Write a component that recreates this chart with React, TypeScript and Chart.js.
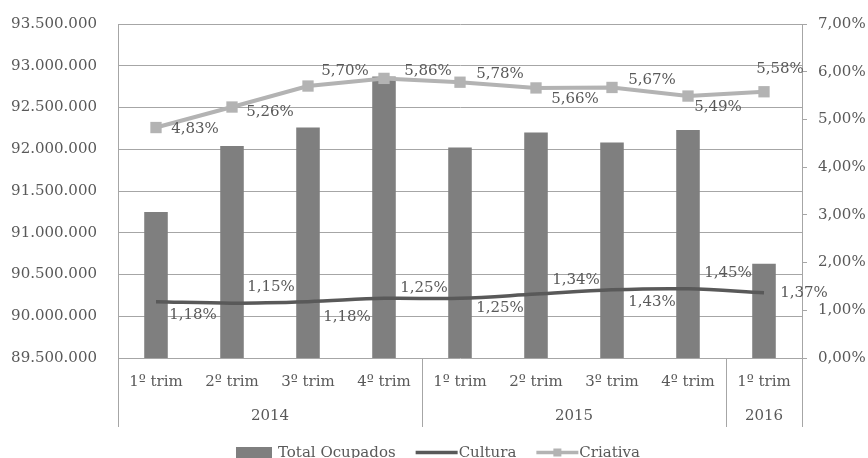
import React, { useEffect, useRef } from "react";
import { Chart, registerables } from "chart.js";

Chart.register(...registerables);

const quarters = ["1º trim", "2º trim", "3º trim", "4º trim", "1º trim", "2º trim", "3º trim", "4º trim", "1º trim"];
const years = ["2014", "2015", "2016"];
const yearSpans = [4, 4, 1];
const totalOcupados = [91250000, 92040000, 92260000, 92870000, 92020000, 92200000, 92080000, 92230000, 90630000];
const cultura = [1.18, 1.15, 1.18, 1.25, 1.25, 1.34, 1.43, 1.45, 1.37];
const criativa = [4.83, 5.26, 5.7, 5.86, 5.78, 5.66, 5.67, 5.49, 5.58];
const leftMin = 89500000;
const leftMax = 93500000;
const leftStep = 500000;
const rightMin = 0;
const rightMax = 7;
const rightStep = 1;

// label offsets (center of text relative to point), styling only
const culturaLabelOffsets = [[37, 13], [39, -16], [39, 15], [40, -10], [40, 10], [40, -14], [40, 12], [40, -16], [40, 0]];
const criativaLabelOffsets = [[39, 2], [38, 5], [37, -15], [44, -7], [40, -8], [39, 11], [40, -7], [30, 11], [16, -23]];

const FONT = "'DejaVu Serif', serif";
const TEXT = "#595959";
const GRID = "#a6a6a6";

const fmtPct = (v: number) => v.toFixed(2).replace(".", ",") + "%";
const fmtNum = (v: number) => String(Math.round(v)).replace(/\B(?=(\d{3})+(?!\d))/g, ".");

const extrasPlugin = {
  id: "extras",
  afterDatasetsDraw(chart: any) {
    const ctx = chart.ctx;
    const area = chart.chartArea;
    const x = chart.scales.x;
    ctx.save();
    // data labels
    ctx.font = `15px ${FONT}`;
    ctx.fillStyle = TEXT;
    ctx.textAlign = "center";
    ctx.textBaseline = "middle";
    const drawLabels = (dsIndex: number, values: number[], offs: number[][]) => {
      const meta = chart.getDatasetMeta(dsIndex);
      meta.data.forEach((pt: any, i: number) => {
        ctx.fillText(fmtPct(values[i]), pt.x + offs[i][0], pt.y + offs[i][1]);
      });
    };
    drawLabels(0, cultura, culturaLabelOffsets);
    drawLabels(1, criativa, criativaLabelOffsets);

    // category separators & year labels
    const catW = (area.right - area.left) / quarters.length;
    const sepBottom = area.bottom + 69;
    ctx.strokeStyle = GRID;
    ctx.lineWidth = 1;
    let idx = 0;
    const bounds = [0];
    yearSpans.forEach((s) => {
      idx += s;
      bounds.push(idx);
    });
    bounds.forEach((b) => {
      const px = Math.round(area.left + b * catW) + 0.5;
      ctx.beginPath();
      ctx.moveTo(px, area.bottom);
      ctx.lineTo(px, sepBottom);
      ctx.stroke();
    });
    years.forEach((yr, i) => {
      const c0 = x.getPixelForValue(bounds[i]);
      const c1 = x.getPixelForValue(bounds[i + 1] - 1);
      ctx.fillText(yr, (c0 + c1) / 2, area.bottom + 58);
    });

    // legend
    const ly = 452;
    ctx.font = `15px ${FONT}`;
    ctx.textAlign = "left";
    ctx.textBaseline = "alphabetic";
    const items = [
      { text: "Total Ocupados", kind: "box", sw: 36, gap: 6 },
      { text: "Cultura", kind: "line", sw: 42, gap: 1 },
      { text: "Criativa", kind: "marker", sw: 42, gap: 1 },
    ];
    const spacing = 20;
    let total = 0;
    items.forEach((it, i) => {
      total += it.sw + it.gap + ctx.measureText(it.text).width + (i < items.length - 1 ? spacing : 0);
    });
    let cx = chart.width / 2 - total / 2 + 4;
    items.forEach((it) => {
      if (it.kind === "box") {
        ctx.fillStyle = "#7f7f7f";
        ctx.fillRect(cx, ly - 5, it.sw, 14);
      } else if (it.kind === "line") {
        ctx.strokeStyle = "#595959";
        ctx.lineWidth = 3.5;
        ctx.beginPath();
        ctx.moveTo(cx, ly + 0.5);
        ctx.lineTo(cx + it.sw, ly + 0.5);
        ctx.stroke();
      } else {
        ctx.strokeStyle = "#b3b3b3";
        ctx.lineWidth = 3.5;
        ctx.beginPath();
        ctx.moveTo(cx, ly + 0.5);
        ctx.lineTo(cx + it.sw, ly + 0.5);
        ctx.stroke();
        ctx.fillStyle = "#b3b3b3";
        ctx.fillRect(cx + it.sw / 2 - 4, ly - 3.5, 8, 8);
      }
      cx += it.sw + it.gap;
      ctx.fillStyle = TEXT;
      ctx.fillText(it.text, cx, ly + 5);
      cx += ctx.measureText(it.text).width + spacing;
    });
    ctx.restore();
  },
};

export default function App() {
  const ref = useRef<HTMLCanvasElement>(null);
  useEffect(() => {
    document.body.style.margin = "0";
    const canvas = ref.current;
    if (!canvas) return;
    const chart = new Chart(canvas, {
      type: "bar",
      data: {
        labels: quarters,
        datasets: [
          {
            type: "line",
            label: "Cultura",
            data: cultura,
            yAxisID: "y1",
            borderColor: "#595959",
            borderWidth: 3.5,
            pointRadius: 0,
            tension: 0.35,
            order: 1,
          } as any,
          {
            type: "line",
            label: "Criativa",
            data: criativa,
            yAxisID: "y1",
            borderColor: "#b3b3b3",
            backgroundColor: "#b3b3b3",
            borderWidth: 4,
            pointStyle: "rect",
            pointRadius: 8,
            pointBorderWidth: 0,
            tension: 0,
            order: 2,
          } as any,
          {
            type: "bar",
            label: "Total Ocupados",
            data: totalOcupados,
            yAxisID: "y",
            backgroundColor: "#7f7f7f",
            categoryPercentage: 1,
            barPercentage: 0.31,
            order: 3,
          },
        ],
      },
      options: {
        animation: false,
        responsive: true,
        maintainAspectRatio: false,
        layout: { padding: { top: 24, bottom: 0, left: 0, right: 0 } },
        plugins: { legend: { display: false }, tooltip: { enabled: false } },
        scales: {
          x: {
            grid: { display: false },
            border: { display: false },
            ticks: { color: TEXT, font: { family: FONT, size: 15 }, padding: 7, maxRotation: 0, autoSkip: false },
            afterFit: (s: any) => {
              s.height = 100;
            },
          },
          y: {
            position: "left",
            min: leftMin,
            max: leftMax,
            grid: { color: GRID, drawTicks: true, tickLength: 18, tickColor: "rgba(0,0,0,0)" },
            border: { display: true, color: GRID },
            ticks: {
              stepSize: leftStep,
              color: TEXT,
              font: { family: FONT, size: 15 },
              padding: 3,
              callback: (v: any) => fmtNum(Number(v)),
            },
            afterFit: (s: any) => {
              s.width = 118;
            },
          },
          y1: {
            position: "right",
            min: rightMin,
            max: rightMax,
            grid: { drawOnChartArea: false, drawTicks: true, tickLength: 5, color: GRID },
            border: { display: true, color: GRID },
            ticks: {
              stepSize: rightStep,
              color: TEXT,
              font: { family: FONT, size: 15 },
              padding: 11,
              callback: (v: any) => fmtPct(Number(v)),
            },
            afterFit: (s: any) => {
              s.width = 66;
            },
          },
        },
      },
      plugins: [extrasPlugin],
    });
    return () => chart.destroy();
  }, []);
  return (
    <div style={{ width: 868, height: 458, position: "relative", background: "#fff" }}>
      <canvas ref={ref} />
    </div>
  );
}
